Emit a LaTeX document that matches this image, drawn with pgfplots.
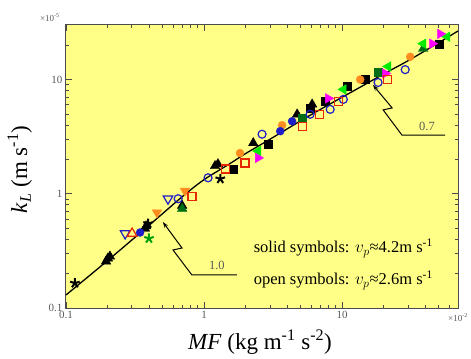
\documentclass[border=0pt]{standalone}
\usepackage{pgfplots}
\pgfplotsset{compat=1.18}
\usepackage{fontspec}
\setmainfont{Liberation Serif}
\usetikzlibrary{arrows.meta}
\definecolor{bgyellow}{RGB}{255,255,135}
\definecolor{myorange}{RGB}{255,140,30}
\definecolor{mygreen}{RGB}{0,235,0}
\definecolor{mydkgreen}{RGB}{0,110,20}
\definecolor{mymagenta}{RGB}{255,0,255}
\definecolor{myblue}{RGB}{30,30,200}
\definecolor{myred}{RGB}{230,40,0}
\begin{document}
\begin{tikzpicture}
\begin{axis}[
 scale only axis, width=392pt, height=283pt,
 xmode=log, ymode=log,
 xmin=0.1, xmax=69, ymin=0.1, ymax=30,
 axis background/.style={fill=bgyellow},
 xtick={0.1,1,10}, xticklabels={0.1,1,10},
 ytick={0.1,1,10}, yticklabels={0.1,1,10},
 minor xtick={0.2,0.3,0.4,0.5,0.6,0.7,0.8,0.9,2,3,4,5,6,7,8,9,20,30,40,50,60},
 minor ytick={0.2,0.3,0.4,0.5,0.6,0.7,0.8,0.9,2,3,4,5,6,7,8,9,20},
 tick align=inside,
 major tick length=6pt, minor tick length=3pt,
 axis line style={draw=black!70, line width=1pt},
 every tick/.style={black!70, line width=0.8pt},
 tick label style={font=\fontsize{11}{13}\selectfont, text=black!65},
 /pgf/number format/assume math mode=true,
 xlabel={\textit{MF} (kg m\textsuperscript{-1} s\textsuperscript{-2})},
 ylabel={\textit{k}\textsubscript{\textit{L}} (m s\textsuperscript{-1})},
 label style={font=\fontsize{23}{25}\selectfont},
 xlabel style={at={(rel axis cs:0.495,-0.122)}, anchor=center},
 ylabel style={at={(rel axis cs:-0.118,0.49)}, anchor=center},
 clip=false,
]
% black filled triangles
\addplot[only marks, mark=triangle*, mark size=5.5pt, color=black, fill=black] coordinates {
(0.201,0.272)(0.195,0.256)(0.208,0.283)(0.373,0.496)(0.38,0.52)(0.694,0.787)(1.20,1.75)(1.26,1.82)(2.27,2.78)(4.72,4.96)(6.06,6.06)};
% black stars
\addplot[only marks, mark=star, mark size=5pt, color=black, line width=2pt] coordinates {
(0.116,0.165)(0.393,0.548)(1.31,1.35)};
% black squares
\addplot[only marks, mark=square*, mark size=4pt, color=black] coordinates {
(1.62,1.65)(2.91,2.72)(5.86,5.60)(7.53,6.44)(10.9,8.69)(14.7,10.0)(18.2,11.7)(50.5,20.2)};
% orange circles
\addplot[only marks, mark=*, mark size=4pt, color=myorange] coordinates {
(1.82,2.27)(3.67,3.98)(13.5,10.0)(31.1,15.8)};
% orange down triangles
\addplot[only marks, mark=triangle*, mark options={rotate=180}, mark size=5.5pt, color=myorange] coordinates {
(0.456,0.684)(0.727,1.06)};
% dark green
\addplot[only marks, mark=triangle*, mark size=5.5pt, color=mydkgreen] coordinates {
(0.694,0.741)(38.6,18.6)};
\addplot[only marks, mark=square*, mark size=4pt, color=mydkgreen] coordinates {
(5.13,4.58)(18.2,11.5)};
% green left triangles
\addplot[only marks, mark=triangle*, mark options={rotate=90}, mark size=5.5pt, color=mygreen] coordinates {
(2.46,2.37)(10.2,8.19)(21.5,13.0)(38.6,20.6)(57.6,23.7)};
% magenta right triangles
\addplot[only marks, mark=triangle*, mark options={rotate=-90}, mark size=5.5pt, color=mymagenta] coordinates {
(2.46,2.06)(7.92,6.84)(20.5,11.3)(44.9,20.6)(51.3,25.1)};
% green star
\addplot[only marks, mark=star, mark size=5pt, color=mydkgreen!60!mygreen, line width=2pt] coordinates {
(0.399,0.406)};
% blue filled circles
\addplot[only marks, mark=*, mark size=4pt, color=myblue] coordinates {
(0.344,0.458)(3.56,3.53)(4.34,4.31)};
% blue open circles
\addplot[only marks, mark=o, mark size=4pt, color=myblue, line width=1.2pt] coordinates {
(0.649,0.905)(1.069,1.38)(2.63,3.32)(5.86,4.96)(8.19,5.48)(10.2,6.70)(18.2,9.42)(28.6,12.2)};
% blue open down triangles
\addplot[only marks, mark=triangle, mark options={rotate=180}, mark size=5.5pt, color=myblue, line width=1.2pt] coordinates {
(0.268,0.449)(0.548,0.905)};
% red open triangle
\addplot[only marks, mark=triangle, mark size=5.5pt, color=myred, line width=1.2pt] coordinates {
(0.301,0.449)};
% red open squares
\addplot[only marks, mark=square, mark size=4pt, color=myred, line width=1.2pt] coordinates {
(0.818,0.942)(1.42,1.65)(1.98,1.86)(5.13,3.90)(6.81,4.96)(9.35,6.44)(21.2,10.0)};
% fit line
\addplot[black, line width=1.3pt, smooth] coordinates {
(0.1,0.13)(0.2,0.26)(0.4,0.53)(0.7,0.95)(1,1.33)(1.5,1.8)(2,2.25)(3,3.0)(5,4.35)(7,5.5)(10,7.0)(15,9.2)(20,11.2)(30,14.6)(50,21)(69,26.6)};
% leaders
\draw[black, line width=1pt, -{Stealth[length=6pt,width=4pt]}]
 (rel axis cs:0.436,0.117) -- (rel axis cs:0.321,0.117) -- (rel axis cs:0.273,0.205) -- (rel axis cs:0.296,0.212) -- (rel axis cs:0.247,0.304);
\node[font=\fontsize{12.5}{14}\selectfont, text=black!65] at (rel axis cs:0.385,0.152) {1.0};
\draw[black, line width=1pt, -{Stealth[length=6pt,width=4pt]}]
 (rel axis cs:0.967,0.611) -- (rel axis cs:0.857,0.611) -- (rel axis cs:0.809,0.700) -- (rel axis cs:0.832,0.707) -- (rel axis cs:0.783,0.788);
\node[font=\fontsize{12.5}{14}\selectfont, text=black!65] at (rel axis cs:0.921,0.643) {0.7};
\node[anchor=west, font=\fontsize{16.5}{18}\selectfont] at (rel axis cs:0.47,0.212) {solid symbols: $v_p$≈4.2m s\textsuperscript{-1}};
\node[anchor=west, font=\fontsize{16.5}{18}\selectfont] at (rel axis cs:0.47,0.099) {open symbols: $v_p$≈2.6m s\textsuperscript{-1}};
\node[overlay, font=\fontsize{9}{10}\selectfont, text=black!65] at (rel axis cs:-0.041,1.025) {×10\textsuperscript{-5}};
\node[overlay, anchor=east, inner sep=1pt, font=\fontsize{9}{10}\selectfont, text=black!65] at (rel axis cs:1.028,-0.035) {×10\textsuperscript{-2}};
\end{axis}
\path (current axis.south west) ++(-66pt,-50pt) coordinate (bbA);
\path (current axis.north east) ++(13pt,25pt) coordinate (bbB);
\path (bbA) rectangle (bbB);
\end{tikzpicture}
\end{document}
